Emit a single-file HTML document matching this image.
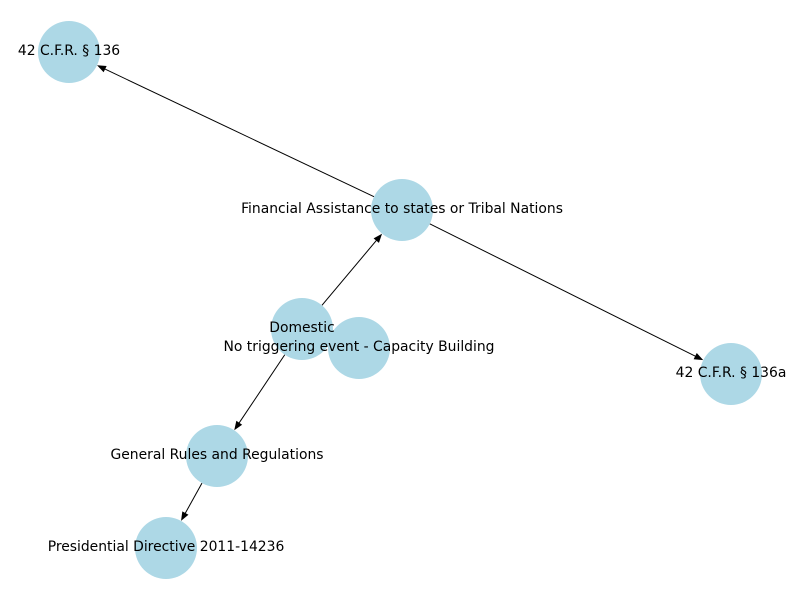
<!DOCTYPE html>
<html><head><meta charset="utf-8"><style>
html,body{margin:0;padding:0;background:#fff;}
svg{display:block;}
text{font-family:"DejaVu Sans","Liberation Sans",sans-serif;font-size:13.9px;fill:#000;}
</style></head><body>
<svg id="chart" width="800" height="600">
<g id="edges"></g>
<g id="nodes"></g>
<g id="labels"></g>
</svg>
<script>
const nodeLabels = ["42 C.F.R. § 136","Financial Assistance to states or Tribal Nations","Domestic","No triggering event - Capacity Building","42 C.F.R. § 136a","General Rules and Regulations","Presidential Directive 2011-14236"];
const nodeX = [69,402,302,359,731,217,166];
const nodeY = [52,210,329,348,374,456,548];
const edgeFrom = [1,1,2,2,5];
const edgeTo = [0,4,1,5,6];
const R = 31;
const NS = "http://www.w3.org/2000/svg";
const eg = document.getElementById('edges'), ng = document.getElementById('nodes'), lg = document.getElementById('labels');
for (let i=0;i<edgeFrom.length;i++){
  const a=edgeFrom[i], b=edgeTo[i];
  const x1=nodeX[a], y1=nodeY[a], x2=nodeX[b], y2=nodeY[b];
  const dx=x2-x1, dy=y2-y1, L=Math.hypot(dx,dy), ux=dx/L, uy=dy/L;
  const sx=x1+ux*R, sy=y1+uy*R, ex=x2-ux*R, ey=y2-uy*R;
  const line=document.createElementNS(NS,'line');
  
  
  line.setAttribute('x1',sx);line.setAttribute('y1',sy);
  line.setAttribute('x2',ex-ux*8);line.setAttribute('y2',ey-uy*8);
  line.setAttribute('stroke','#000');line.setAttribute('stroke-width','1');
  eg.appendChild(line);
  const px=-uy, py=ux;
  const bx=ex-ux*9, by=ey-uy*9;
  const head=document.createElementNS(NS,'polygon');
  
  
  head.setAttribute('points',`${ex},${ey} ${bx+px*3.5},${by+py*3.5} ${bx-px*3.5},${by-py*3.5}`);
  head.setAttribute('fill','#000');
  eg.appendChild(head);
}
for (let i=0;i<nodeLabels.length;i++){
  const c=document.createElementNS(NS,'circle');
  
  
  c.setAttribute('cx',nodeX[i]);c.setAttribute('cy',nodeY[i]);c.setAttribute('r',R);
  c.setAttribute('fill','#add8e6');
  ng.appendChild(c);
  const t=document.createElementNS(NS,'text');
  
  
  t.setAttribute('x',nodeX[i]);t.setAttribute('y',nodeY[i]-1);
  t.setAttribute('text-anchor','middle');t.setAttribute('dominant-baseline','central');
  t.textContent=nodeLabels[i];
  lg.appendChild(t);
}
</script>
</body></html>
